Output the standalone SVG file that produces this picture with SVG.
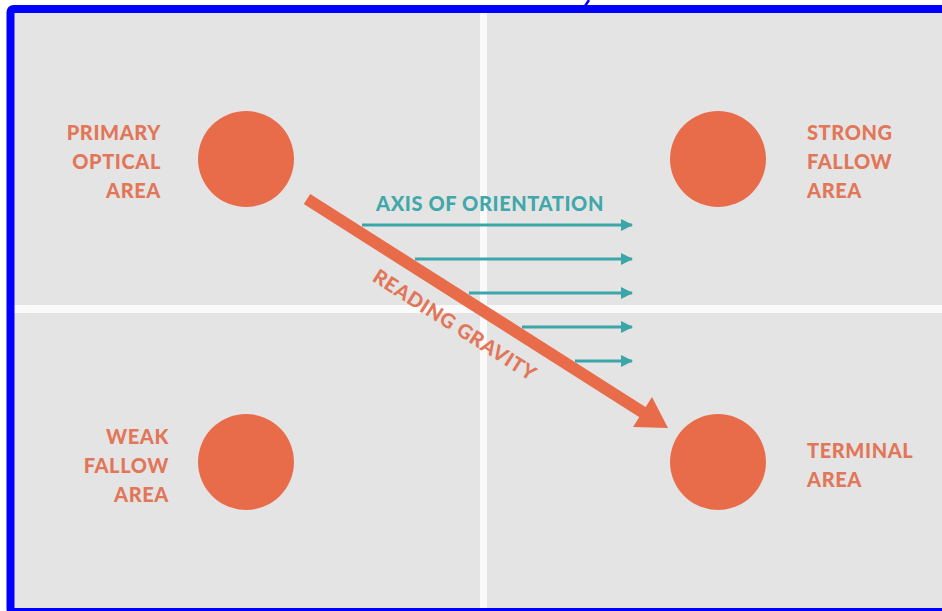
<svg xmlns="http://www.w3.org/2000/svg" width="942" height="611" viewBox="0 0 942 611">
  <style>
    .dot { fill: #e86c4a; }
    .lbl { font-family: "Lato", "Open Sans", "Liberation Sans", sans-serif; font-weight: 900; font-size: 20px; fill: #e27659; letter-spacing: 0.6px; }
    .axis-lbl { font-family: "Lato", "Open Sans", "Liberation Sans", sans-serif; font-weight: 900; font-size: 20px; fill: #41a8aa; letter-spacing: 0.6px; }
    .axis { stroke: #3aa6a9; stroke-width: 3; fill: none; }
    .gravity { stroke: #e86c4a; stroke-width: 12; fill: none; }
  </style>
  <defs>
    <marker id="tealHead" viewBox="0 0 12 12" refX="11" refY="6" markerWidth="12" markerHeight="12" markerUnits="userSpaceOnUse" orient="auto">
      <path d="M0,0 L12,6 L0,12 Z" fill="#3aa6a9"/>
    </marker>
  </defs>

  <!-- frame and quadrant background -->
  <rect x="0" y="0" width="942" height="611" fill="#ffffff"/>
  <rect x="14" y="13" width="928" height="595" fill="#e4e4e4"/>
  <rect x="480" y="13" width="7" height="595" fill="#fafafa"/>
  <rect x="14" y="305" width="928" height="8" fill="#fafafa"/>
  <rect x="10.5" y="9" width="945" height="603" rx="3" fill="none" stroke="#0000ff" stroke-width="8"/>
  <line x1="585" y1="6" x2="589" y2="0" stroke="#0000ff" stroke-width="2.5"/>

  <!-- connectors -->
  <g id="connectors">
    <g id="axis-arrows">
      <line class="axis" x1="362" y1="225" x2="632" y2="225" marker-end="url(#tealHead)"/>
      <line class="axis" x1="415" y1="259" x2="632" y2="259" marker-end="url(#tealHead)"/>
      <line class="axis" x1="469" y1="293" x2="632" y2="293" marker-end="url(#tealHead)"/>
      <line class="axis" x1="522" y1="327" x2="632" y2="327" marker-end="url(#tealHead)"/>
      <line class="axis" x1="575" y1="361" x2="632" y2="361" marker-end="url(#tealHead)"/>
    </g>
    <g id="reading-gravity">
      <line class="gravity" x1="307" y1="199" x2="647" y2="415"/>
      <path d="M668,428 L633,427 L652,397 Z" fill="#e86c4a"/>
    </g>
  </g>

  <!-- axis and gravity labels -->
  <text class="axis-lbl" x="490" y="211" text-anchor="middle">AXIS OF ORIENTATION</text>
  <text class="lbl" x="0" y="0" text-anchor="middle" transform="translate(451,331) rotate(32.4)">READING GRAVITY</text>

  <!-- areas -->
  <g id="primary-optical-area">
    <circle class="dot" cx="246" cy="159" r="48"/>
    <text class="lbl" text-anchor="end" x="161" y="140">PRIMARY</text>
    <text class="lbl" text-anchor="end" x="161" y="169">OPTICAL</text>
    <text class="lbl" text-anchor="end" x="161" y="198">AREA</text>
  </g>
  <g id="strong-fallow-area">
    <circle class="dot" cx="718" cy="159" r="48"/>
    <text class="lbl" x="807" y="140">STRONG</text>
    <text class="lbl" x="807" y="169">FALLOW</text>
    <text class="lbl" x="807" y="198">AREA</text>
  </g>
  <g id="weak-fallow-area">
    <circle class="dot" cx="246" cy="462" r="48"/>
    <text class="lbl" text-anchor="end" x="169" y="444">WEAK</text>
    <text class="lbl" text-anchor="end" x="169" y="473">FALLOW</text>
    <text class="lbl" text-anchor="end" x="169" y="502">AREA</text>
  </g>
  <g id="terminal-area">
    <circle class="dot" cx="718" cy="462" r="48"/>
    <text class="lbl" x="807" y="458">TERMINAL</text>
    <text class="lbl" x="807" y="487">AREA</text>
  </g>
</svg>
